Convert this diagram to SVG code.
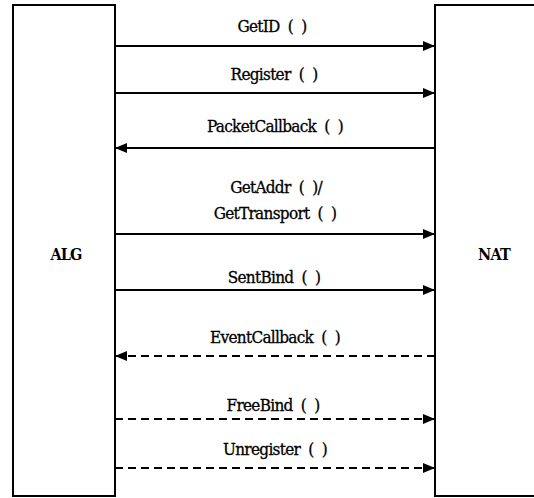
<svg xmlns="http://www.w3.org/2000/svg" width="534" height="498" viewBox="0 0 534 498">
<style>
.box{fill:#fff;stroke:#000;stroke-width:2}
.ln{stroke:#000;stroke-width:2;fill:none}
.dash{stroke-dasharray:8 5}
.t{font-family:"DejaVu Serif Condensed","DejaVu Serif",serif;font-stretch:condensed;font-size:17px;fill:#000;stroke:#000;stroke-width:0.3;text-anchor:middle;word-spacing:4px;letter-spacing:-0.7px}
.lbl{font-family:"DejaVu Serif Condensed","DejaVu Serif",serif;font-stretch:condensed;font-weight:bold;font-size:16px;fill:#000;text-anchor:middle;letter-spacing:-0.8px}
</style>
<defs>
<marker id="ah" viewBox="0 0 12 10" refX="12" refY="5" markerWidth="12" markerHeight="10" markerUnits="userSpaceOnUse" orient="auto">
<path d="M0,0 L12,5 L0,10 Z" fill="#000"/>
</marker>
</defs>
<g id="alg"><rect class="box" x="13" y="5" width="102" height="491"/><text class="lbl" x="66" y="260">ALG</text></g>
<g id="nat"><rect class="box" x="435" y="5" width="110" height="491"/><text class="lbl" x="494" y="260">NAT</text></g>
<g id="connectors">
<line class="ln" x1="115" y1="46" x2="435" y2="46" marker-end="url(#ah)"/>
<line class="ln" x1="115" y1="93" x2="435" y2="93" marker-end="url(#ah)"/>
<line class="ln" x1="435" y1="148" x2="115" y2="148" marker-end="url(#ah)"/>
<line class="ln" x1="115" y1="234" x2="435" y2="234" marker-end="url(#ah)"/>
<line class="ln" x1="115" y1="290" x2="435" y2="290" marker-end="url(#ah)"/>
<line class="ln dash" x1="435" y1="356" x2="115" y2="356" marker-end="url(#ah)"/>
<line class="ln dash" x1="115" y1="419" x2="435" y2="419" marker-end="url(#ah)"/>
<line class="ln dash" x1="115" y1="468" x2="435" y2="468" marker-end="url(#ah)"/>
<text class="t" x="272" y="32">GetID ( )</text>
<text class="t" x="274" y="80">Register ( )</text>
<text class="t" x="275" y="132">PacketCallback ( )</text>
<text class="t" x="276" y="193">GetAddr ( )/</text>
<text class="t" x="275" y="219">GetTransport ( )</text>
<text class="t" x="274" y="283">SentBind ( )</text>
<text class="t" x="275" y="343">EventCallback ( )</text>
<text class="t" x="273" y="411">FreeBind ( )</text>
<text class="t" x="275" y="455">Unregister ( )</text>
</g>
</svg>
